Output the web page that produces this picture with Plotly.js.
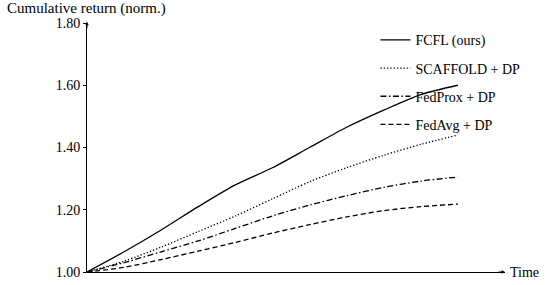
<!DOCTYPE html>
<html>
<head>
<meta charset="utf-8">
<script src="https://cdn.plot.ly/plotly-3.0.1.min.js"></script>
<style>
  html, body { margin: 0; padding: 0; background: #fff; }
  #chart { width: 550px; height: 285px; }
</style>
</head>
<body>
<div id="chart"></div>
<script>
// normalised time steps
const time = [0, 0.1, 0.2, 0.3, 0.4, 0.5, 0.6, 0.7, 0.8, 0.9, 1.0];

const fcfl     = [1.00, 1.065, 1.135, 1.21, 1.28, 1.335, 1.40, 1.465, 1.52, 1.57, 1.60];
const scaffold = [1.00, 1.035, 1.08, 1.13, 1.18, 1.235, 1.29, 1.335, 1.375, 1.41, 1.44];
const fedprox  = [1.00, 1.03, 1.065, 1.10, 1.14, 1.18, 1.215, 1.245, 1.272, 1.292, 1.305];
const fedavg   = [1.00, 1.015, 1.04, 1.067, 1.095, 1.125, 1.152, 1.177, 1.197, 1.21, 1.218];

const yTicks = [1.0, 1.2, 1.4, 1.6, 1.8];

const serif = '"Liberation Serif", "Times New Roman", serif';

function series(name, y, dash, group) {
  return {
    x: time,
    y: y,
    name: name,
    legendgroup: group,
    mode: 'lines',
    type: 'scatter',
    line: { color: '#000', width: 1.3, dash: dash, shape: 'spline', smoothing: 0.8 }
  };
}

const data = [
  series('FCFL (ours)', fcfl, 'solid', 'a'),
  series('SCAFFOLD + DP', scaffold, '1.3px,2px', 'b'),
  series('FedProx + DP', fedprox, '6px,2.5px,1.5px,2.5px', 'c'),
  series('FedAvg + DP', fedavg, '5px,3px', 'd')
];

const layout = {
  width: 550,
  height: 285,
  margin: { l: 87, r: 45, t: 23, b: 13 },
  paper_bgcolor: '#fff',
  plot_bgcolor: '#fff',
  font: { family: serif, size: 14, color: '#000' },
  showlegend: true,
  legend: {
    x: 0.69, y: 0.995, xanchor: 'left', yanchor: 'top',
    bgcolor: 'rgba(0,0,0,0)',
    tracegroupgap: 7,
    font: { family: serif, size: 14, color: '#000' }
  },
  xaxis: {
    range: [0, 1.127],
    showline: true, linecolor: '#000', linewidth: 1,
    showgrid: false, zeroline: false,
    showticklabels: false, ticks: ''
  },
  yaxis: {
    range: [1.0, 1.8],
    tickvals: yTicks,
    tickformat: '.2f',
    ticks: 'outside', ticklen: 3, tickcolor: '#000',
    showline: true, linecolor: '#000', linewidth: 1,
    showgrid: false, zeroline: false
  },
  annotations: [
    {
      text: 'Cumulative return (norm.)',
      xref: 'paper', yref: 'paper', x: -0.196, y: 1.058,
      xanchor: 'left', yanchor: 'middle', showarrow: false,
      font: { family: serif, size: 15, color: '#000' }
    },
    {
      text: 'Time',
      xref: 'paper', yref: 'paper', x: 1, y: 0,
      xanchor: 'left', yanchor: 'middle', xshift: 3, showarrow: false,
      font: { family: serif, size: 14, color: '#000' }
    },
    {
      text: '', xref: 'paper', yref: 'paper', x: 1, y: 0,
      ax: -8, ay: 0, showarrow: true, arrowhead: 2, arrowsize: 0.7, arrowwidth: 1, arrowcolor: '#000'
    },
    {
      text: '', xref: 'paper', yref: 'paper', x: 0, y: 1.005,
      ax: 0, ay: 8, showarrow: true, arrowhead: 2, arrowsize: 0.7, arrowwidth: 1, arrowcolor: '#000'
    }
  ]
};

Plotly.newPlot('chart', data, layout, { displayModeBar: false, staticPlot: true });
</script>
</body>
</html>
